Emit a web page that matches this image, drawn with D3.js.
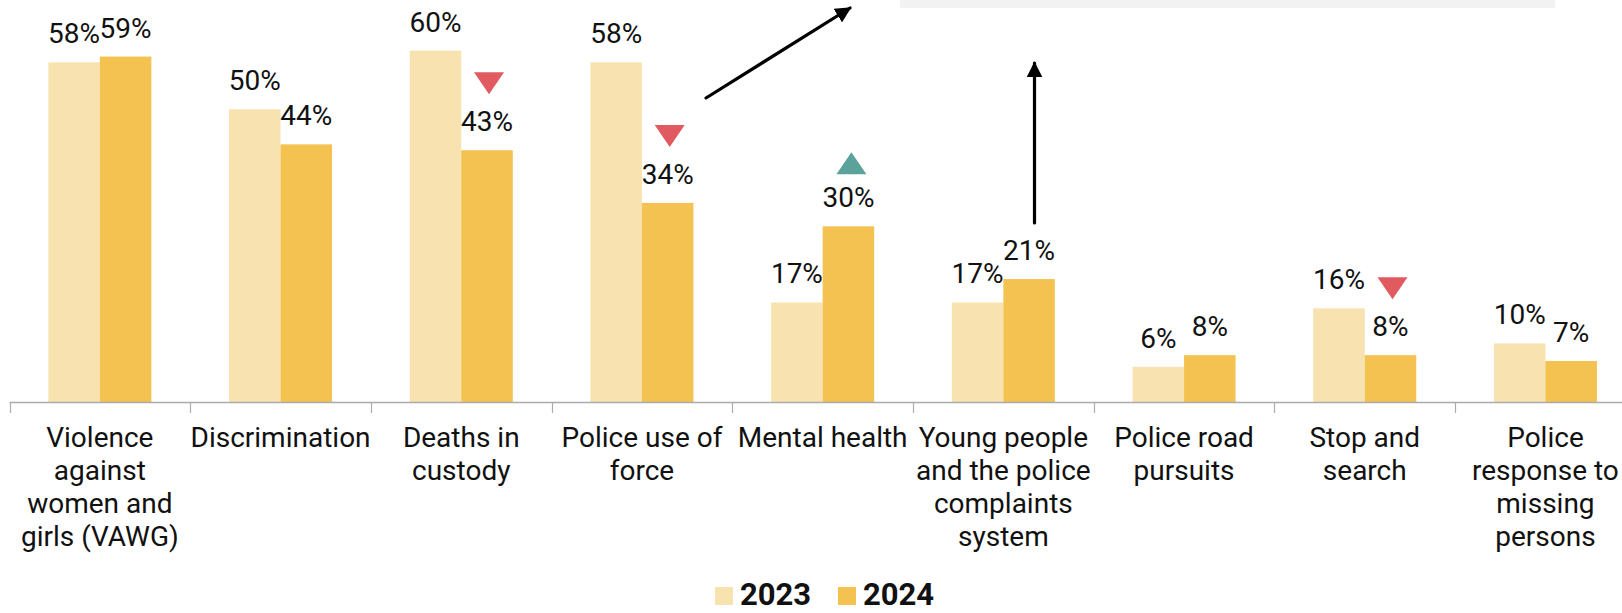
<!DOCTYPE html>
<html>
<head>
<meta charset="utf-8">
<script src="https://cdn.jsdelivr.net/npm/d3@7"></script>
<style>
  html, body { margin: 0; padding: 0; background: #fff; }
  svg { display: block; font-family: Roboto, "Noto Sans", sans-serif; }
</style>
</head>
<body>
<svg id="chart" width="1622" height="613"></svg>
<script>
// ---- data ----
const categories = [
  "Violence against women and girls (VAWG)",
  "Discrimination",
  "Deaths in custody",
  "Police use of force",
  "Mental health",
  "Young people and the police complaints system",
  "Police road pursuits",
  "Stop and search",
  "Police response to missing persons"
];
const categoryLines = [
  ["Violence", "against", "women and", "girls (VAWG)"],
  ["Discrimination"],
  ["Deaths in", "custody"],
  ["Police use of", "force"],
  ["Mental health"],
  ["Young people", "and the police", "complaints", "system"],
  ["Police road", "pursuits"],
  ["Stop and", "search"],
  ["Police", "response to", "missing", "persons"]
];
const seriesNames = ["2023", "2024"];
const values2023 = [58, 50, 60, 58, 17, 17, 6, 16, 10];
const values2024 = [59, 44, 43, 34, 30, 21, 8, 8, 7];
// significant change markers for 2024: -1 down, 1 up, 0 none
const change2024 = [0, 0, -1, -1, 1, 0, 0, -1, 0];

// ---- styles ----
const colors = { "2023": "#F8E2B0", "2024": "#F3C250" };
const downColor = "#E15A5F";
const upColor = "#5BA29B";

const svg = d3.select("#chart");

const baseline = 402;
const x0 = d3.scaleBand()
  .domain(categories)
  .range([9.5, 9.5 + 9 * 180.7])
  .paddingInner(0).paddingOuter(0);

const x1 = d3.scaleBand()
  .domain(seriesNames)
  .range([0, x0.bandwidth()])
  .paddingInner(0).paddingOuter(0.754);

const y = d3.scaleLinear().domain([0, 60]).range([baseline, 50.7]);

const rows = categories.map((c, i) => ({
  cat: c, i,
  vals: [
    { key: "2023", v: values2023[i] },
    { key: "2024", v: values2024[i] }
  ]
}));

// grey strip at top
svg.append("rect").attr("x", 900).attr("y", 0).attr("width", 655).attr("height", 8)
  .attr("fill", "#F2F2F2");

// bars
const groups = svg.append("g").selectAll("g").data(rows).join("g")
  .attr("transform", d => `translate(${x0(d.cat)},0)`);

groups.selectAll("rect").data(d => d.vals).join("rect")
  .attr("x", d => x1(d.key))
  .attr("y", d => y(d.v))
  .attr("width", x1.bandwidth())
  .attr("height", d => baseline - y(d.v))
  .attr("fill", d => colors[d.key]);

// value labels
groups.selectAll("text.val").data(d => d.vals).join("text")
  .attr("class", "val")
  .attr("x", d => x1(d.key) + x1.bandwidth() / 2)
  .attr("y", d => y(d.v) - 19)
  .attr("text-anchor", "middle")
  .attr("font-size", 28)
  .attr("fill", "#111")
  .text(d => d.v + "%");

// change markers
const tw = 30, th = 22;
rows.forEach((r, i) => {
  const ch = change2024[i];
  if (!ch) return;
  const cx = x0(r.cat) + x1("2024") + x1.bandwidth() / 2 + (ch > 0 ? 3 : 2);
  const top = y(values2024[i]) - (ch > 0 ? 74 : 78);
  const pts = ch < 0
    ? [[cx - tw / 2, top], [cx + tw / 2, top], [cx, top + th]]
    : [[cx, top], [cx + tw / 2, top + th], [cx - tw / 2, top + th]];
  svg.append("path")
    .attr("d", "M" + pts.map(p => p.join(",")).join("L") + "Z")
    .attr("fill", ch < 0 ? downColor : upColor);
});

// x axis
const axis = svg.append("g");
axis.append("line")
  .attr("x1", x0.range()[0]).attr("x2", 1622)
  .attr("y1", baseline + 0.5).attr("y2", baseline + 0.5)
  .attr("stroke", "#ABABAB").attr("stroke-width", 1.6);
categories.forEach(c => {
  const xx = Math.round(x0(c)) + 0.5;
  axis.append("line")
    .attr("x1", xx).attr("x2", xx)
    .attr("y1", baseline).attr("y2", baseline + 11)
    .attr("stroke", "#ABABAB").attr("stroke-width", 1.2);
});
categories.forEach((c, i) => {
  const t = axis.append("text")
    .attr("text-anchor", "middle")
    .attr("font-size", 28)
    .attr("fill", "#111");
  categoryLines[i].forEach((ln, k) => {
    t.append("tspan")
      .attr("x", x0(c) + x0.bandwidth() / 2)
      .attr("y", 447 + k * 33)
      .text(ln);
  });
});

// arrows
const defs = svg.append("defs");
defs.append("marker")
  .attr("id", "ah").attr("viewBox", "0 0 10 10")
  .attr("refX", 9).attr("refY", 5)
  .attr("markerWidth", 5).attr("markerHeight", 5)
  .attr("markerUnits", "strokeWidth")
  .attr("orient", "auto")
  .append("path").attr("d", "M0,0L10,5L0,10Z").attr("fill", "#000");

svg.append("line")
  .attr("x1", 706).attr("y1", 98).attr("x2", 850).attr("y2", 8)
  .attr("stroke", "#000").attr("stroke-width", 3.2)
  .attr("stroke-linecap", "round")
  .attr("marker-end", "url(#ah)");
svg.append("line")
  .attr("x1", 1034.5).attr("y1", 223).attr("x2", 1034.5).attr("y2", 63)
  .attr("stroke", "#000").attr("stroke-width", 3.2)
  .attr("stroke-linecap", "round")
  .attr("marker-end", "url(#ah)");

// legend
const legend = svg.append("g");
const legendX = [715, 838];
seriesNames.forEach((s, i) => {
  legend.append("rect")
    .attr("x", legendX[i]).attr("y", 587)
    .attr("width", 18).attr("height", 18)
    .attr("fill", colors[s]);
  legend.append("text")
    .attr("x", legendX[i] + 25).attr("y", 605)
    .attr("font-size", 31).attr("font-weight", "bold")
    .attr("fill", "#111")
    .text(s);
});
</script>
</body>
</html>
